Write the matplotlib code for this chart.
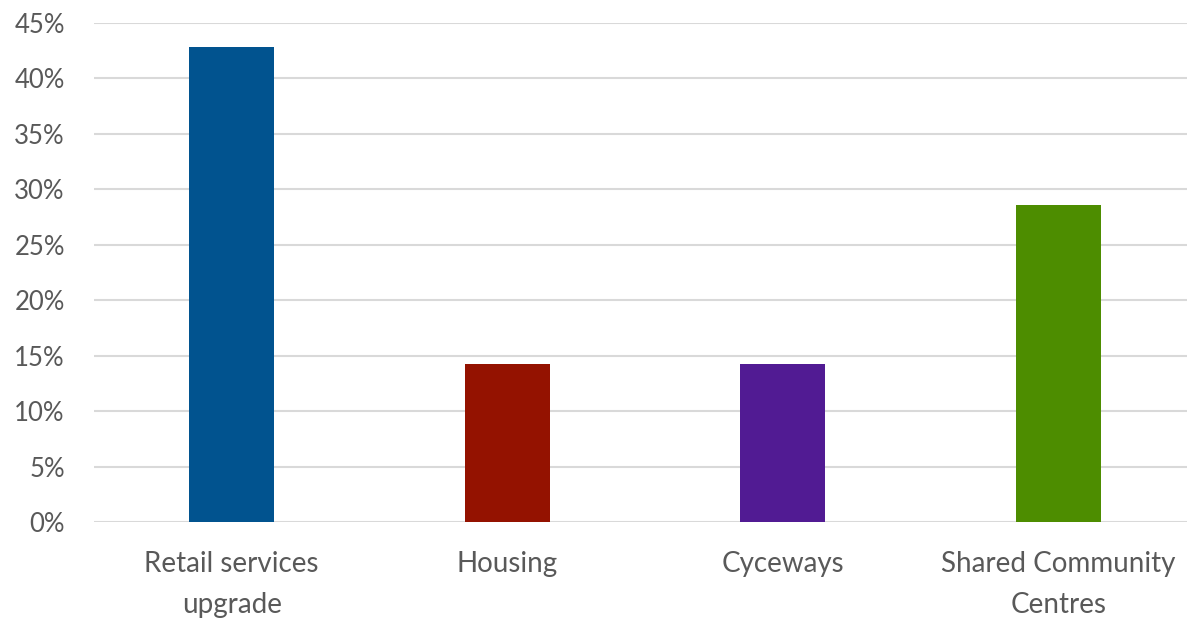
import matplotlib.pyplot as plt
from matplotlib.ticker import PercentFormatter

categorias = ["Retail services\nupgrade", "Housing", "Cyceways", "Shared Community\nCentres"]
valores = [42.86, 14.29, 14.29, 28.57]
colores = ["#01538f", "#941200", "#511b93", "#4d8d00"]

plt.rcParams['font.family'] = ['Lato', 'DejaVu Sans']

fig = plt.figure(figsize=(11.87, 6.2), dpi=100)
ax = fig.add_axes([94 / 1187, 0.158, 1102 / 1187, 0.805])

x = range(len(categorias))
ax.bar(x, valores, width=0.31, color=colores, zorder=3)

ax.set_xlim(-0.5, 3.5)
ax.set_ylim(0, 45)
ax.set_yticks(range(0, 50, 5))
ax.yaxis.set_major_formatter(PercentFormatter(decimals=0))
ax.set_xticks(list(x))
ax.set_xticklabels(categorias, linespacing=1.7)

ax.grid(axis='y', color='#d9d9d9', linewidth=1.5, zorder=0)
for lado in ['top', 'right', 'left', 'bottom']:
    ax.spines[lado].set_visible(False)
ax.tick_params(axis='both', length=0, labelcolor='#595959')
ax.tick_params(axis='y', pad=21, labelsize=18.5)
ax.tick_params(axis='x', pad=21, labelsize=20)

fig.savefig('out.png', dpi=100)
